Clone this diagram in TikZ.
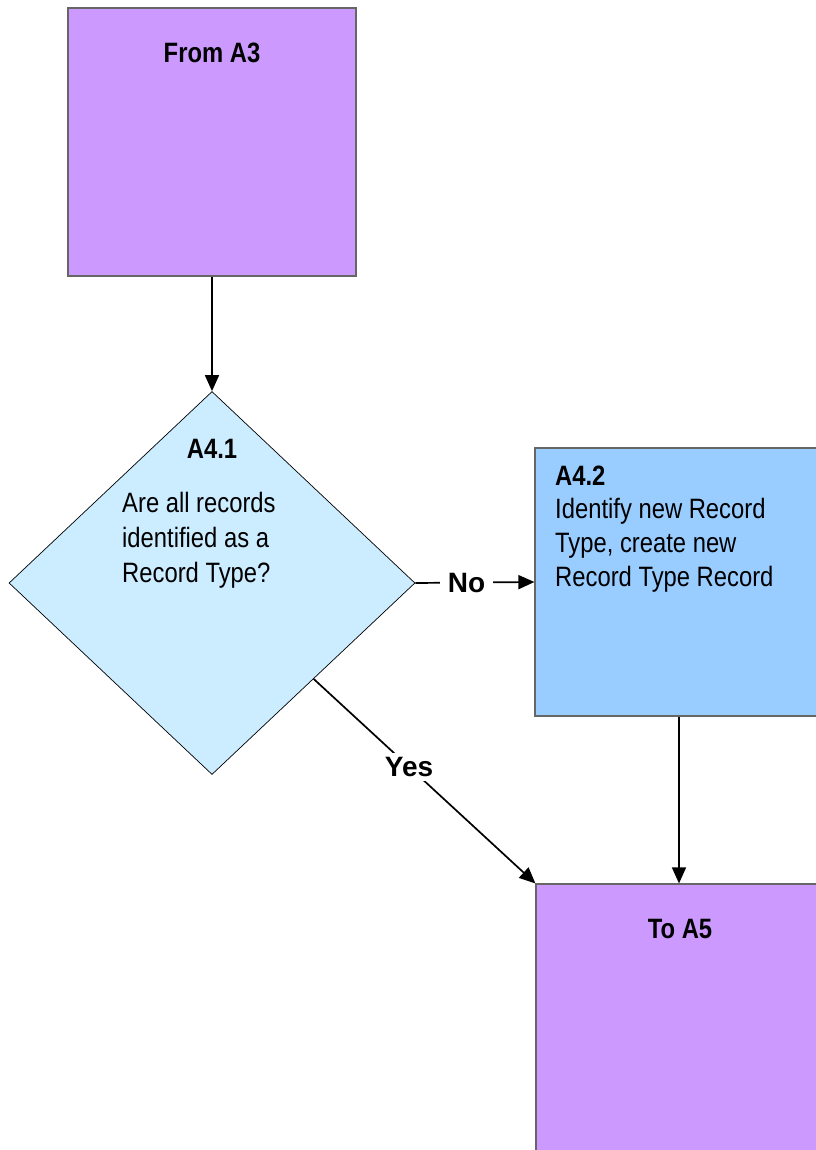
\documentclass[tikz,border=0pt]{standalone}
\usepackage{fontspec}
\setmainfont{Liberation Sans}
\newfontfamily\narrowfont[FakeStretch=0.85]{Liberation Sans}
\usetikzlibrary{shapes.geometric,arrows.meta,positioning}

\definecolor{stepviolet}{HTML}{CC99FF}
\definecolor{paleblue}{HTML}{CCECFF}
\definecolor{skyblue}{HTML}{99CCFF}

\tikzset{
  termbox/.style={draw=black!60, fill=stepviolet, line width=1.2pt,
    minimum width=288pt, minimum height=268pt, inner sep=0pt},
  taskbox/.style={termbox, fill=skyblue},
  decision/.style={diamond, draw=black, fill=paleblue, line width=0.7pt,
    minimum width=406pt, minimum height=383pt, inner sep=0pt},
  boxtext/.style={font=\narrowfont\fontsize{28}{34}\selectfont, inner sep=0pt},
  boxtitle/.style={font=\narrowfont\bfseries\fontsize{28}{34}\selectfont, inner sep=0pt},
  answer/.style={font=\bfseries\fontsize{28}{34}\selectfont, fill=white,
    inner xsep=8pt, inner ysep=4pt},
  flow/.style={line width=1.7pt, -{Triangle[length=16pt,width=14pt]}}
}

\begin{document}
\begin{tikzpicture}[x=1pt, y=-1pt]
  \useasboundingbox (0,0) rectangle (815,1150);

  % shapes
  \node[termbox] (from) at (212,142) {};
  \node[decision] (q) at (212,583) {};
  \node[taskbox] (task) at (679,582) {};
  \node[termbox] (to) at (680,1018) {};

  % texts (base of a multi-line node is its last line)
  \node[boxtitle, anchor=base] (from-title) at (212,63) {From A3};
  \node[boxtitle, anchor=base] (q-title) at (212,458) {A4.1};
  \node[boxtext, anchor=base west, align=left,
    font=\narrowfont\fontsize{28}{35}\selectfont] (q-text) at (122,582)
    {Are all records\\identified as a\\Record Type?};
  \node[boxtitle, anchor=base west] (task-title) at (555,485) {A4.2};
  \node[boxtext, anchor=base west, align=left] (task-text) at (555,586)
    {Identify new Record\\Type, create new\\Record Type Record};
  \node[boxtitle, anchor=base] (to-title) at (680,938) {To A5};

  % connectors
  \draw[flow] (from.south) -- (q.north);
  \draw[flow] (q.east) -- node[answer, pos=0.43] (no) {No} (task.west);
  \draw[flow] (q.south east) -- node[answer, pos=0.43] (yes) {Yes} (to.north west);
  \draw[flow] (task.south) -- (task.south |- to.north);

\end{tikzpicture}
\end{document}
